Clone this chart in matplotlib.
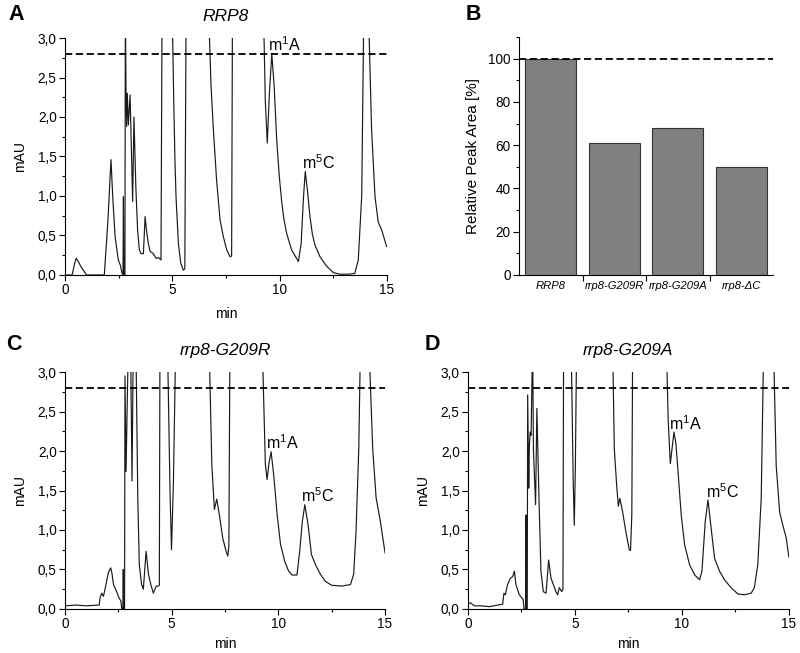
import numpy as np
import matplotlib
matplotlib.use("Agg")
import matplotlib.pyplot as plt
from matplotlib.ticker import FuncFormatter, MultipleLocator, FixedLocator

plt.rcParams['font.family'] = ['Liberation Sans', 'DejaVu Sans']
plt.rcParams['mathtext.fontset'] = 'custom'
plt.rcParams['mathtext.rm'] = 'Liberation Sans'
plt.rcParams['mathtext.it'] = 'Liberation Sans:italic'

OFF = 3.4  # detector signal off the top of the scale

# panel A - RRP8 chromatogram (min, mAU)
rrp8_t = [0, 0.33, 0.45, 0.52, 0.62, 0.75, 0.88, 1.0, 1.83, 2.0, 2.14, 2.22, 2.33, 2.48, 2.58, 2.64,
          2.70, 2.72, 2.74, 2.79, 2.81, 2.84, 2.87, 2.90, 2.95, 3.03, 3.09, 3.15, 3.21, 3.30, 3.38, 3.46,
          3.54, 3.65, 3.73, 3.80, 3.88, 3.96, 4.11, 4.25, 4.35, 4.47, 4.52, 4.97, 5.02, 5.06, 5.12, 5.17,
          5.28, 5.39, 5.51, 5.58, 5.64, 6.68, 6.74, 6.80, 6.91, 7.06, 7.22, 7.37, 7.53, 7.69, 7.76, 7.80,
          9.24, 9.33, 9.42, 9.52, 9.63, 9.74, 9.86, 9.98, 10.1, 10.2, 10.32, 10.55, 10.87, 11.0, 11.1,
          11.19, 11.3, 11.41, 11.52, 11.64, 11.88, 12.19, 12.5, 12.8, 13.2, 13.5, 13.66, 13.82, 13.92,
          14.13, 14.28, 14.44, 14.59, 14.75, 14.98]
rrp8_v = [0, 0, 0.15, 0.21, 0.17, 0.10, 0.05, 0, 0, 0.7, 1.46, 1.0, 0.49, 0.19, 0.12, 0.04,
          0, 0.99, 0, 0, OFF, 2.34, 1.88, 2.30, 1.90, 2.28, 1.60, 0.93, 2.0, 1.10, 0.57, 0.32,
          0.27, 0.27, 0.74, 0.55, 0.40, 0.30, 0.27, 0.21, 0.22, 0.19, OFF, OFF, 2.9, 2.26, 1.45, 0.99,
          0.40, 0.15, 0.06, 0.08, OFF, OFF, 2.9, 2.4, 1.84, 1.20, 0.70, 0.49, 0.32, 0.23, 0.24, OFF,
          OFF, 2.2, 1.67, 2.3, 2.80, 2.4, 1.71, 1.25, 0.91, 0.70, 0.53, 0.32, 0.17, 0.40, 0.95,
          1.31, 1.05, 0.74, 0.52, 0.38, 0.23, 0.11, 0.03, 0.01, 0.01, 0.02, 0.19, 1.0, OFF,
          OFF, 1.84, 0.99, 0.67, 0.57, 0.36]

# panel C - rrp8-G209R
g209r_t = [0, 0.5, 1.0, 1.6, 1.64, 1.72, 1.80, 1.92, 2.03, 2.14, 2.20, 2.27, 2.42, 2.53, 2.62, 2.66,
           2.71, 2.73, 2.75, 2.79, 2.81, 2.86, 2.92, 2.97, 3.07, 3.14, 3.20, 3.32, 3.41, 3.48, 3.59,
           3.67, 3.80, 3.91, 4.02, 4.14, 4.27, 4.38, 4.42, 4.45, 4.80, 4.92, 4.99, 5.08, 5.19, 6.75,
           6.88, 7.00, 7.11, 7.23, 7.39, 7.55, 7.63, 7.68, 7.73, 9.24, 9.39, 9.47, 9.56, 9.66, 9.78,
           9.94, 10.1, 10.3, 10.48, 10.64, 10.87, 11.0, 11.12, 11.24, 11.39, 11.55, 11.74, 11.97, 12.2,
           12.5, 12.99, 13.38, 13.53, 13.64, 13.77, 13.85, 14.24, 14.42, 14.58, 14.78, 15.0]
g209r_v = [0.04, 0.05, 0.04, 0.05, 0.14, 0.20, 0.16, 0.31, 0.46, 0.52, 0.45, 0.31, 0.22, 0.14, 0.10, 0.0,
           0.0, 0.50, 0.0, 0.0, 2.95, 1.74, 2.67, OFF, OFF, 1.62, OFF, OFF, 1.41, 0.56, 0.31,
           0.25, 0.73, 0.44, 0.31, 0.20, 0.29, 0.29, 0.30, OFF, OFF, 1.5, 0.75, 1.6, OFF, OFF,
           1.83, 1.26, 1.39, 1.20, 0.90, 0.73, 0.67, 0.80, OFF, OFF, 1.83, 1.64, 1.85, 1.99, 1.70,
           1.20, 0.82, 0.60, 0.48, 0.43, 0.43, 0.73, 1.10, 1.32, 1.07, 0.69, 0.56, 0.44, 0.35,
           0.30, 0.29, 0.31, 0.44, 0.98, 2.04, OFF, OFF, 2.04, 1.41, 1.11, 0.71]

# panel D - rrp8-G209A
g209a_t = [0, 0.1, 0.3, 0.6, 1.0, 1.4, 1.62, 1.68, 1.75, 1.85, 1.98, 2.09, 2.17, 2.24, 2.40, 2.52,
           2.58, 2.62, 2.69, 2.71, 2.73, 2.77, 2.79, 2.84, 2.87, 2.91, 2.95, 3.02, 3.06, 3.16, 3.22,
           3.33, 3.41, 3.52, 3.65, 3.77, 3.88, 3.99, 4.11, 4.19, 4.27, 4.38, 4.44, 4.47, 4.82, 4.92,
           4.97, 5.02, 5.08, 6.76, 6.84, 6.95, 7.03, 7.10, 7.23, 7.38, 7.54, 7.60, 7.66, 7.70, 9.27,
           9.36, 9.46, 9.55, 9.63, 9.72, 9.82, 9.97, 10.13, 10.36, 10.6, 10.83, 10.94, 11.09, 11.22,
           11.37, 11.53, 11.76, 11.99, 12.3, 12.62, 12.93, 13.24, 13.39, 13.55, 13.71, 13.83, 14.28,
           14.41, 14.57, 14.72, 14.88, 15.0]
g209a_v = [0.06, 0.08, 0.04, 0.04, 0.03, 0.05, 0.06, 0.20, 0.18, 0.31, 0.39, 0.41, 0.48, 0.31, 0.18, 0.14,
           0.12, 0.0, 0.0, 1.19, 0.0, 0.0, 2.71, 1.53, 2.07, 2.24, 2.20, OFF, 2.0, 1.32, 2.54,
           1.28, 0.48, 0.22, 0.20, 0.62, 0.39, 0.31, 0.22, 0.18, 0.27, 0.22, 0.25, OFF, OFF, 1.6,
           1.06, 1.8, OFF, OFF, 2.03, 1.57, 1.30, 1.40, 1.23, 0.98, 0.75, 0.74, 1.2, OFF, OFF,
           2.4, 1.84, 2.05, 2.24, 2.10, 1.74, 1.19, 0.81, 0.56, 0.43, 0.37, 0.48, 1.10, 1.38,
           1.02, 0.64, 0.48, 0.37, 0.27, 0.19, 0.18, 0.20, 0.27, 0.56, 1.40, OFF, OFF,
           1.82, 1.23, 1.06, 0.90, 0.66]

# panel B - relative m1A peak area
strains = ['RRP8', 'rrp8-G209R', 'rrp8-G209A', 'rrp8-ΔC']
rel_area = [100, 61, 68, 50]

threshold = 2.8

# label positions (min, mAU) for m1A / m5C
label_pos = {
    'A': [(9.45, 2.92), (11.05, 1.42)],
    'C': [(9.4, 2.1), (11.05, 1.43)],
    'D': [(9.4, 2.34), (11.15, 1.49)],
}

comma = FuncFormatter(lambda v, p: f'{v:.1f}'.replace('.', ','))

fig = plt.figure(figsize=(8, 6.53), dpi=100)


def style_axes(ax):
    ax.spines['top'].set_visible(False)
    ax.spines['right'].set_visible(False)
    ax.tick_params(direction='out', length=4, width=0.8, labelsize=9.8, pad=2)
    ax.tick_params(which='minor', direction='out', length=2, width=0.8)


def chromatogram(rect, t, v, title, labels, xpad):
    ax = fig.add_axes(rect)
    ax.plot(t, v, color='#1a1a1a', lw=0.85)
    ax.axhline(threshold, color='black', lw=1.3, ls=(0, (4, 2)))
    ax.set_xlim(0, 15)
    ax.set_ylim(0, 3.0)
    ax.xaxis.set_major_locator(MultipleLocator(5))
    ax.xaxis.set_minor_locator(MultipleLocator(2.5))
    ax.yaxis.set_major_locator(MultipleLocator(0.5))
    ax.yaxis.set_minor_locator(MultipleLocator(0.25))
    ax.yaxis.set_major_formatter(comma)
    style_axes(ax)
    ax.set_xlabel('min', fontsize=10, labelpad=xpad)
    ax.set_ylabel('mAU', fontsize=10, labelpad=8)
    ax.set_title(title, fontsize=12.5, style='italic', pad=12)
    (x1, y1), (x2, y2) = labels
    ax.text(x1, y1, r'm$^{1}$A', fontsize=11.5, va='center')
    ax.text(x2, y2, r'm$^{5}$C', fontsize=11.5, va='center')
    return ax


chromatogram([0.0813, 0.5789, 0.4025, 0.3629], rrp8_t, rrp8_v, 'RRP8', label_pos['A'], 7)
chromatogram([0.0813, 0.0674, 0.4, 0.3629], g209r_t, g209r_v, 'rrp8-G209R', label_pos['C'], 4)
chromatogram([0.585, 0.0674, 0.401, 0.3629], g209a_t, g209a_v, 'rrp8-G209A', label_pos['D'], 4)

# bar panel
axb = fig.add_axes([0.6488, 0.5789, 0.3175, 0.3645])
pos = np.arange(1, len(strains) + 1)
axb.bar(pos, rel_area, width=0.8, color='#808080', edgecolor='#333333', lw=0.8)
axb.axhline(100, color='black', lw=1.3, ls=(0, (4, 2)))
axb.set_xlim(0.5, len(strains) + 0.5)
axb.set_ylim(0, 110)
axb.yaxis.set_major_locator(FixedLocator([0, 20, 40, 60, 80, 100]))
axb.yaxis.set_minor_locator(FixedLocator([10, 30, 50, 70, 90, 110]))
axb.xaxis.set_major_locator(FixedLocator(pos[:-1] + 0.5))
axb.xaxis.set_major_formatter(FuncFormatter(lambda v, p: ''))
axb.xaxis.set_minor_locator(FixedLocator(pos))
style_axes(axb)
axb.set_xticklabels(strains, minor=True, style='italic', fontsize=8.1)
axb.tick_params(axis='x', which='minor', length=0, pad=4)
axb.set_ylabel('Relative Peak Area [%]', fontsize=11, labelpad=6)

# panel letters
for letter, (x, y) in zip('ABCD', [(16, 15), (473, 15), (14, 344), (432, 344)]):
    fig.text(x / 800, 1 - y / 653, letter, fontsize=15.5, fontweight='bold', ha='center', va='center')

fig.savefig('out.png', dpi=100)
